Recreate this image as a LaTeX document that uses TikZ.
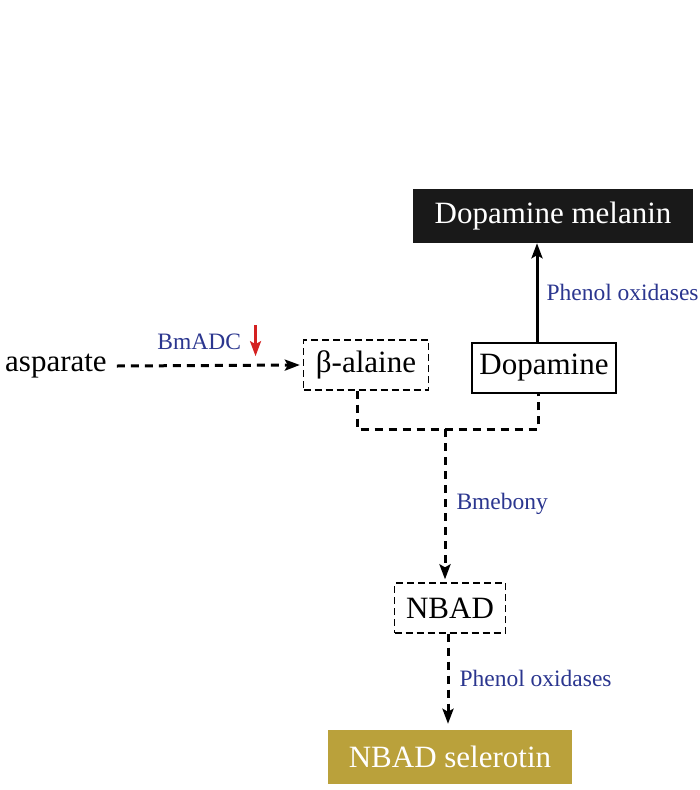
\documentclass[tikz,border=0pt]{standalone}
\usepackage{fontspec}
\setmainfont{Liberation Serif}
\usepackage{xcolor}
\usetikzlibrary{positioning,calc,arrows,arrows.meta}
\definecolor{enzymeblue}{rgb}{0.17, 0.21, 0.56}
\definecolor{sclerogold}{rgb}{0.73, 0.63, 0.23}
\definecolor{downred}{rgb}{0.83, 0.13, 0.13}

\begin{document}
\begin{tikzpicture}[x=1pt,y=-1pt,>={Stealth[length=15pt,width=11pt,inset=3pt]},
                cpd/.style={inner sep=0pt,font=\fontsize{31}{36}\selectfont},
                dbox/.style={cpd,draw,dashed,line width=1.3pt,dash pattern=on 7pt off 4pt},
                enz/.style={inner sep=0pt,text=enzymeblue,font=\fontsize{23.5}{28}\selectfont},
                flow/.style={->,line width=3pt,dash pattern=on 8pt off 6pt}]
\useasboundingbox (0,0) rectangle (700,790);
%Nodes
    \node[cpd,fill=black!90,text=white,minimum width=280,minimum height=54] (melanin) at (553,216) {Dopamine melanin};
    \node[cpd,draw,line width=1.3pt,minimum width=144,minimum height=50] (dopa) at (544,368) {Dopamine};
    \node[dbox,minimum width=125,minimum height=50] (balaine) at (366,365) {β-alaine};
    \node[cpd,anchor=west] (asp) at (5,366) {asparate};
    \node[dbox,minimum width=111,minimum height=50] (nbad) at (450,608) {NBAD};
    \node[cpd,fill=sclerogold,text=white,minimum width=244,minimum height=54] (sclero) at (450,757) {NBAD selerotin};
    \coordinate (jl) at (357,429);
    \coordinate (jm) at (445,429);
    \coordinate (jr) at (538,429);

%Edges
    \draw[->,line width=3pt] (dopa.north -| 537,0) -- node[enz,right=8pt] {Phenol oxidases} (melanin.south -| 537,0);
    \draw[flow] (asp.east) ++(10,0) -- ($(balaine.west)+(-3,0)$) node[enz,pos=0.45,above=14pt] (bmadc) {BmADC};
    \draw[->,downred,line width=2.5pt] ($(bmadc.east)+(13,-17)$) -- ++(0,31);
    \draw[line width=3pt,dash pattern=on 8pt off 6pt] (balaine.south -| jl) -- (jl) -- (jr) -- (dopa.south -| jr);
    \draw[flow] (jm) -- node[enz,right=10pt] {Bmebony} ($(nbad.north -| jm)+(0,-3)$);
    \draw[flow] (nbad.south -| 448,0) -- node[enz,right=10pt] {Phenol oxidases} ($(sclero.north -| 448,0)+(0,-6)$);
\end{tikzpicture}
\end{document}
